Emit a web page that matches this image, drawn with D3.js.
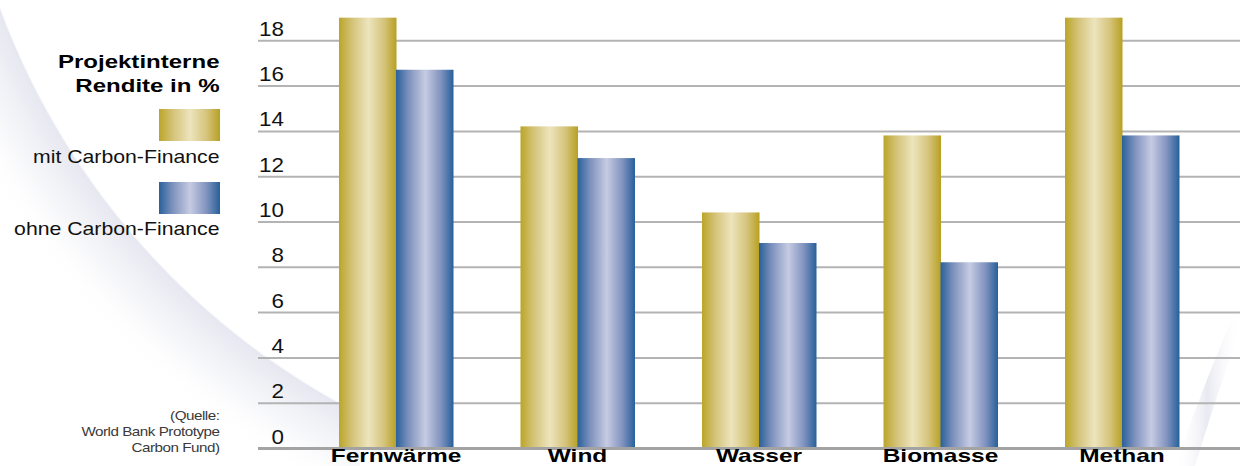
<!DOCTYPE html>
<html>
<head>
<meta charset="utf-8">
<script src="https://cdn.jsdelivr.net/npm/d3@7"></script>
<style>
  html, body { margin: 0; padding: 0; background: #ffffff; }
  svg { display: block; }
  text { font-family: "Liberation Sans", Arial, Helvetica, sans-serif; }
</style>
</head>
<body>
<svg id="chart" width="1240" height="466"></svg>
<script>
// ---- data ----
const categories = ["Fernwärme", "Wind", "Wasser", "Biomasse", "Methan"];
const seriesNames = ["mit Carbon-Finance", "ohne Carbon-Finance"];
const mitCarbonFinance = [19.0, 14.2, 10.4, 13.8, 19.0];
const ohneCarbonFinance = [16.7, 12.8, 9.05, 8.2, 13.8];
const yTicks = [0, 2, 4, 6, 8, 10, 12, 14, 16, 18];
const legendTitle = ["Projektinterne", "Rendite in %"];
const sourceLines = ["(Quelle:", "World Bank Prototype", "Carbon Fund)"];

const W = 1240, H = 466;
const svg = d3.select("#chart");
const defs = svg.append("defs");

// gradients for bars
function barGradient(id, stops) {
  const g = defs.append("linearGradient").attr("id", id)
    .attr("x1", 0).attr("x2", 1).attr("y1", 0).attr("y2", 0);
  stops.forEach(s => g.append("stop").attr("offset", s[0]).attr("stop-color", s[1]));
}
barGradient("gold", [[0, "#bba528"], [0.22, "#d3c276"], [0.51, "#ede4bd"], [0.78, "#d5c47c"], [1, "#b8a022"]]);
barGradient("blue", [[0, "#29619a"], [0.22, "#7d91bd"], [0.51, "#c6cbe2"], [0.78, "#8193bf"], [1, "#26609a"]]);
const fills = ["url(#gold)", "url(#blue)"];

// background swoosh (radial band)
const rg = defs.append("radialGradient").attr("id", "swoosh")
  .attr("gradientUnits", "userSpaceOnUse")
  .attr("cx", 700).attr("cy", -250).attr("r", 830);
rg.append("stop").attr("offset", 0).attr("stop-color", "#ffffff").attr("stop-opacity", 0);
rg.append("stop").attr("offset", 0.897).attr("stop-color", "#ffffff").attr("stop-opacity", 0);
rg.append("stop").attr("offset", 0.9).attr("stop-color", "#e6e7f0").attr("stop-opacity", 1);
rg.append("stop").attr("offset", 0.95).attr("stop-color", "#f0f1f6").attr("stop-opacity", 0.6);
rg.append("stop").attr("offset", 1).attr("stop-color", "#ffffff").attr("stop-opacity", 0);
svg.append("rect").attr("x", 0).attr("y", 0).attr("width", 360).attr("height", H)
  .attr("fill", "url(#swoosh)");

const rg2 = defs.append("linearGradient").attr("id", "swoosh2")
  .attr("x1", 0).attr("y1", 0).attr("x2", 1).attr("y2", 0);
rg2.append("stop").attr("offset", 0).attr("stop-color", "#ffffff").attr("stop-opacity", 0);
rg2.append("stop").attr("offset", 0.5).attr("stop-color", "#e6e7f0").attr("stop-opacity", 0.9);
rg2.append("stop").attr("offset", 1).attr("stop-color", "#ffffff").attr("stop-opacity", 0);
svg.append("path")
  .attr("d", "M1240,300 L1240,330 Q1215,400 1195,466 L1175,466 Q1205,380 1240,300 Z")
  .attr("fill", "url(#swoosh2)");

// scales
const y = d3.scaleLinear().domain([0, 18]).range([448, 40.3]);
const x0 = d3.scaleBand().domain(categories).range([305.25, 1212.75])
  .paddingInner(67.5 / 181.5).paddingOuter(33.75 / 181.5);
const x1 = d3.scaleBand().domain(seriesNames).range([0, x0.bandwidth()]);

// grid + tick labels via axis
const axis = d3.axisRight(y).tickValues(yTicks).tickSize(W - 258).tickFormat(d3.format("d"));
const gAxis = svg.append("g").attr("transform", "translate(258,0)").call(axis);
gAxis.select(".domain").remove();
gAxis.selectAll(".tick line")
  .attr("stroke", d => d === 0 ? "#a3a3a3" : "#b3b3b3")
  .attr("stroke-width", d => d === 0 ? 3 : 2);
gAxis.selectAll(".tick text")
  .attr("x", 0).attr("dy", 0)
  .attr("text-anchor", "end")
  .attr("transform", "translate(26,-5) scale(1.12,1)")
  .attr("fill", "#111")
  .style("font-size", "20px")
  .style("font-family", "'Liberation Sans', Arial, sans-serif");

// bars
const rows = categories.map((c, i) => ({ cat: c, vals: [mitCarbonFinance[i], ohneCarbonFinance[i]] }));
const groups = svg.append("g").selectAll("g").data(rows).join("g")
  .attr("transform", d => `translate(${x0(d.cat)},0)`);
groups.selectAll("rect")
  .data(d => d.vals.map((v, k) => ({ s: seriesNames[k], v, k })))
  .join("rect")
  .attr("x", d => x1(d.s))
  .attr("width", x1.bandwidth() + 0.5)
  .attr("y", d => y(d.v))
  .attr("height", d => y(0) - y(d.v) - 1)
  .attr("fill", d => fills[d.k]);

// category labels
svg.append("g").selectAll("text").data(categories).join("text")
  .attr("transform", d => `translate(${x0(d) + x0.bandwidth() / 2},462) scale(1.4,1)`)
  .attr("text-anchor", "middle")
  .style("font-size", "17.5px").style("font-weight", "bold")
  .attr("fill", "#000")
  .text(d => d);

// legend
const legendRight = 219.5;
svg.append("g").selectAll("text").data(legendTitle).join("text")
  .attr("transform", (d, i) => `translate(${legendRight},${[68.3, 91.7][i]}) scale(1.3,1)`)
  .attr("text-anchor", "end")
  .style("font-size", "18.5px").style("font-weight", "bold")
  .attr("fill", "#000")
  .text(d => d);

const swatchY = [109, 182];
const labelY = [163, 235];
seriesNames.forEach((s, i) => {
  svg.append("rect").attr("x", 159).attr("y", swatchY[i]).attr("width", 61).attr("height", 32)
    .attr("fill", fills[i]);
  svg.append("text")
    .attr("transform", `translate(${legendRight},${labelY[i]}) scale(1.2,1)`)
    .attr("text-anchor", "end")
    .style("font-size", "17.7px")
    .attr("fill", "#111")
    .text(s);
});

// source note
svg.append("g").selectAll("text").data(sourceLines).join("text")
  .attr("transform", (d, i) => `translate(${legendRight},${[420, 436, 451.7][i]}) scale(1.17,1)`)
  .attr("text-anchor", "end")
  .style("font-size", "13px")
  .style("letter-spacing", "-0.4px")
  .attr("fill", "#3a3a3a")
  .text(d => d);
</script>
</body>
</html>
